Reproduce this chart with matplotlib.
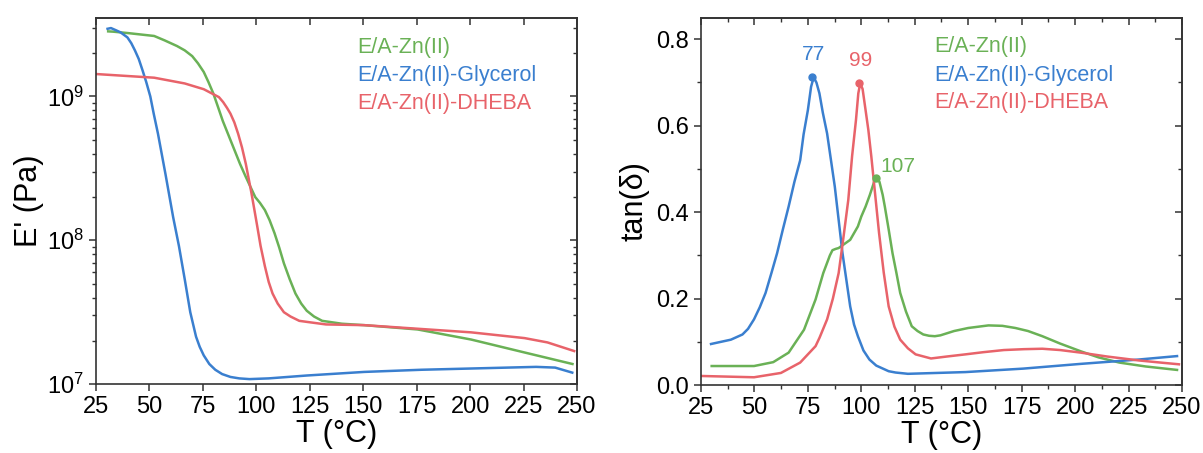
import numpy as np
import matplotlib
matplotlib.use('Agg')
import matplotlib.pyplot as plt
from matplotlib.ticker import LogLocator, MultipleLocator, NullFormatter

plt.rcParams['font.family'] = ['Liberation Sans', 'DejaVu Sans']

green = '#6AB156'
blue = '#3A7FCF'
red = '#E8636A'

labels = ['E/A-Zn(II)', 'E/A-Zn(II)-Glycerol', 'E/A-Zn(II)-DHEBA']

# storage modulus, log10(E' / Pa)
T_zn = [30.7, 33, 40, 52.2, 57, 62.9, 66.5, 70, 72.7, 75.4, 77.6, 79.9, 82, 84.3, 87,
        89.7, 92.4, 95.1, 97.3, 99.5, 101.7, 104, 106.2, 108.5, 110.7, 112.9, 115.6,
        118.3, 121, 123.6, 127, 130.8, 140, 150.5, 175.5, 200.5, 225.5, 247.9]
logE_zn = [9.452, 9.45, 9.44, 9.42, 9.39, 9.35, 9.32, 9.28, 9.23, 9.17, 9.10, 9.02, 8.93,
           8.83, 8.73, 8.63, 8.53, 8.44, 8.37, 8.30, 8.26, 8.21, 8.14, 8.05, 7.95, 7.84,
           7.73, 7.63, 7.56, 7.51, 7.47, 7.44, 7.42, 7.41, 7.38, 7.31, 7.22, 7.14]

T_gly = [30.4, 32, 34.3, 36.5, 39.7, 41.5, 43.2, 45, 46.8, 48.5, 50.4, 52, 54, 57.5,
         61.1, 63.8, 66.5, 69.1, 71.8, 73.5, 75.4, 78, 80.8, 84, 87.9, 92, 96.8, 105.8,
         123.6, 150.5, 177.3, 204.1, 230.9, 239.8, 247.8]
logE_gly = [9.47, 9.475, 9.46, 9.445, 9.41, 9.37, 9.32, 9.26, 9.18, 9.10, 9.0, 8.88,
            8.74, 8.46, 8.16, 7.96, 7.73, 7.50, 7.33, 7.26, 7.20, 7.14, 7.10, 7.07, 7.05,
            7.04, 7.035, 7.04, 7.06, 7.085, 7.10, 7.11, 7.12, 7.115, 7.08]

T_dh = [25.5, 52.2, 66.5, 75.4, 82.5, 84.5, 86.3, 87.9, 89.7, 91.5, 93.3, 95.1, 96.4,
        97.7, 99, 100.4, 102, 104, 105.8, 107.6, 110, 112.9, 116, 120.1, 125, 132.6,
        150.5, 175.5, 200.5, 225.5, 236.2, 248.7]
logE_dh = [9.155, 9.13, 9.09, 9.05, 8.995, 8.96, 8.92, 8.88, 8.82, 8.74, 8.645, 8.53,
           8.43, 8.33, 8.22, 8.10, 7.96, 7.82, 7.71, 7.63, 7.56, 7.50, 7.47, 7.44, 7.43,
           7.415, 7.41, 7.385, 7.36, 7.32, 7.29, 7.23]

# tan(delta)
Tt_zn = [30, 49.8, 58.8, 66, 73.2, 78.6, 82.2, 85.3, 86.5, 88, 89.4, 94.8, 98.4, 100,
         102, 104, 106, 107.4, 108.5, 110, 111, 112.8, 114.6, 116.4, 118.2, 120.9, 123.6,
         126.3, 129, 131.7, 134.4, 137, 143.4, 150, 159.5, 166, 172.1, 178, 184.7, 193,
         202.7, 211, 220.7, 233, 247.7]
tan_zn = [0.044, 0.044, 0.053, 0.075, 0.128, 0.198, 0.259, 0.300, 0.312, 0.315, 0.317,
          0.336, 0.367, 0.39, 0.413, 0.44, 0.47, 0.479, 0.47, 0.44, 0.413, 0.36, 0.305,
          0.26, 0.213, 0.17, 0.136, 0.125, 0.117, 0.114, 0.113, 0.115, 0.125, 0.132,
          0.138, 0.137, 0.132, 0.125, 0.113, 0.096, 0.078, 0.064, 0.052, 0.043, 0.035]

Tt_gly = [29.7, 39, 44.4, 47, 49.8, 52.5, 55.2, 58, 60.6, 63.3, 66, 68.7, 71.4, 73, 75,
          76.5, 77.7, 79, 80.4, 82, 84, 87.6, 91.2, 94.8, 96.6, 98.4, 101, 103.8, 107,
          112.8, 116, 121.8, 148.7, 175.7, 202.7, 229.7, 247.7]
tan_gly = [0.095, 0.105, 0.117, 0.13, 0.152, 0.18, 0.213, 0.26, 0.305, 0.36, 0.413, 0.47,
           0.52, 0.58, 0.636, 0.69, 0.712, 0.70, 0.675, 0.63, 0.582, 0.459, 0.305, 0.182,
           0.14, 0.113, 0.08, 0.059, 0.045, 0.032, 0.029, 0.026, 0.030, 0.038, 0.049,
           0.059, 0.067]

Tt_dh = [25, 49.8, 62.4, 71.4, 78.6, 80.5, 84, 86.7, 89.4, 91.6, 93.9, 95.7, 97.5, 98.6,
         99.5, 100.6, 102, 103.3, 104.7, 106.5, 108.3, 110.5, 112.8, 115.5, 118.2, 121.8,
         125.4, 132.6, 140, 148.7, 157, 166.7, 176, 184.7, 193, 202.7, 215, 229.7, 240,
         248.6]
tan_dh = [0.021, 0.018, 0.028, 0.052, 0.09, 0.11, 0.152, 0.20, 0.259, 0.34, 0.428, 0.53,
          0.613, 0.675, 0.698, 0.685, 0.636, 0.59, 0.528, 0.44, 0.352, 0.26, 0.182, 0.135,
          0.105, 0.085, 0.071, 0.0615, 0.066, 0.071, 0.076, 0.081, 0.083, 0.084, 0.081,
          0.075, 0.066, 0.057, 0.052, 0.048]

peaks_T = [107, 77, 99]
peaks_tan = [0.479, 0.712, 0.698]
peak_text = ['107', '77', '99']

fig = plt.figure(figsize=(12.03, 4.53), dpi=100)
ax1 = fig.add_axes([0.0798, 0.152, 0.3998, 0.808])
ax2 = fig.add_axes([0.5827, 0.150, 0.3998, 0.811])

lw = 1.8
ax1.plot(T_zn, 10 ** np.array(logE_zn), color=green, lw=lw)
ax1.plot(T_gly, 10 ** np.array(logE_gly), color=blue, lw=lw)
ax1.plot(T_dh, 10 ** np.array(logE_dh), color=red, lw=lw)
ax1.set_yscale('log')
ax1.set_xlim(25, 250)
ax1.set_ylim(1e7, 3.5e9)
ax1.set_xlabel('T (°C)', fontsize=22, labelpad=1)
ax1.set_ylabel("E' (Pa)", fontsize=22, labelpad=2)

ax2.plot(Tt_zn, tan_zn, color=green, lw=lw)
ax2.plot(Tt_gly, tan_gly, color=blue, lw=lw)
ax2.plot(Tt_dh, tan_dh, color=red, lw=lw)
for t, v, s, c in zip(peaks_T, peaks_tan, peak_text, [green, blue, red]):
    ax2.plot(t, v, 'o', color=c, ms=5)
    if s == '107':
        ax2.text(t + 2, v + 0.027, s, color=c, fontsize=15, ha='left', va='center')
    else:
        ax2.text(t + 0.7, v + 0.052, s, color=c, fontsize=15, ha='center', va='center')
ax2.set_xlim(25, 250)
ax2.set_ylim(0, 0.85)
ax2.set_xlabel('T (°C)', fontsize=22, labelpad=1)
ax2.set_ylabel('tan(δ)', fontsize=22, labelpad=5)


def set_locators(axis_obj, log):
    if log:
        axis_obj.yaxis.set_major_locator(LogLocator(base=10, numticks=10))
        axis_obj.yaxis.set_minor_locator(LogLocator(base=10, subs=np.arange(2, 10), numticks=20))
        axis_obj.yaxis.set_minor_formatter(NullFormatter())
    else:
        axis_obj.yaxis.set_major_locator(MultipleLocator(0.2))
        axis_obj.yaxis.set_minor_locator(MultipleLocator(0.1))


for ax, lx, log in [(ax1, 0.543, True), (ax2, 0.486, False)]:
    for lab, c, y in zip(labels, [green, blue, red], [0.921, 0.842, 0.768]):
        ax.text(lx, y, lab, color=c, fontsize=15.5, transform=ax.transAxes,
                ha='left', va='center')
    for sp in ax.spines.values():
        sp.set_linewidth(1.2)
        sp.set_color('#333333')
    ax.xaxis.set_major_locator(MultipleLocator(25))
    if not log:
        ax.xaxis.set_minor_locator(MultipleLocator(12.5))
    set_locators(ax, log)
    ax.tick_params(which='both', labelsize=17, colors='#333333', labelcolor='black',
                   direction='out')
    ax.tick_params(which='major', length=5, width=1.1)
    ax.tick_params(which='minor', length=3, width=1.0)

    # mirror ticks pointing inward on top and right
    top = ax.secondary_xaxis('top')
    top.xaxis.set_major_locator(MultipleLocator(25))
    if not log:
        top.xaxis.set_minor_locator(MultipleLocator(12.5))
    top.tick_params(which='both', direction='in', labeltop=False, colors='#333333')
    top.tick_params(which='major', length=5, width=1.1)
    top.tick_params(which='minor', length=3, width=1.0)
    right = ax.secondary_yaxis('right')
    set_locators(right, log)
    right.tick_params(which='both', direction='in', labelright=False, colors='#333333')
    right.tick_params(which='major', length=5, width=1.1)
    right.tick_params(which='minor', length=3, width=1.0)
    for sa in (top, right):
        for sp in sa.spines.values():
            sp.set_linewidth(1.2)
            sp.set_color('#333333')

plt.savefig('out.png', dpi=100)
